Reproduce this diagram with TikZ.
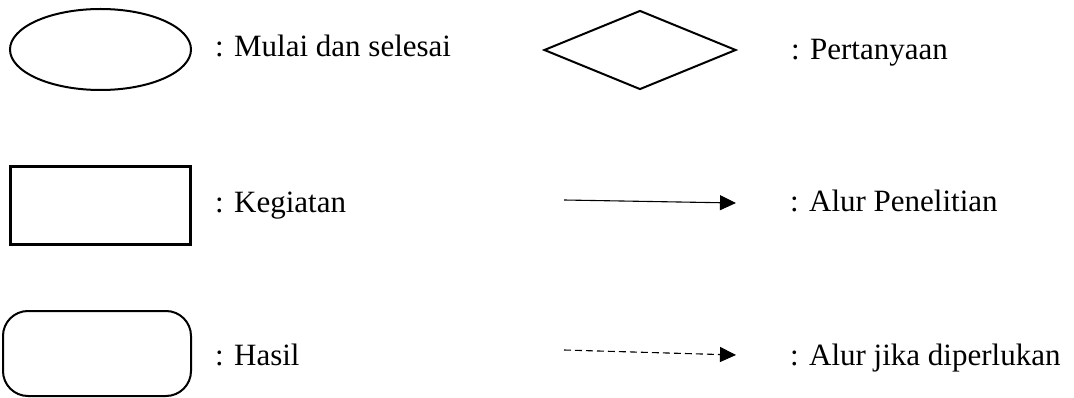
\documentclass[tikz,border=0pt]{standalone}
\usepackage{fontspec}
\setmainfont{Liberation Serif}
\usetikzlibrary{shapes.geometric,arrows.meta}
\begin{document}
\begin{tikzpicture}[x=1pt,y=-1pt,
  shp/.style={draw=black,line width=2pt,inner sep=0pt,fill=white},
  lbl/.style={anchor=base west,inner sep=0pt,font=\fontsize{31}{37}\selectfont},
  flow/.style={line width=1.1pt,-{Triangle[length=16pt,width=15pt]}},
  optflow/.style={flow,dash pattern=on 7pt off 4pt}]
\useasboundingbox (0,0) rectangle (1074,398);
% left column
\node[shp,ellipse,minimum width=181pt,minimum height=81pt] (start) at (100.5,49.5) {};
\node[lbl] (startlbl) at (215,57) {: Mulai dan selesai};
\node[shp,rectangle,line width=3pt,minimum width=180pt,minimum height=78pt] (act) at (100.5,205.5) {};
\node[lbl] (actlbl) at (215,213) {: Kegiatan};
\node[shp,rectangle,rounded corners=25pt,minimum width=188pt,minimum height=85pt] (res) at (97,353.5) {};
\node[lbl] (reslbl) at (215,365) {: Hasil};
% right column
\node[shp,diamond,minimum width=192pt,minimum height=79pt] (q) at (640,50) {};
\node[lbl] (qlbl) at (791,60) {: Pertanyaan};
\coordinate (f1s) at (564,200);
\coordinate (f1e) at (736,203);
\draw[flow] (f1s) -- (f1e);
\node[lbl] (f1lbl) at (790,212) {: Alur Penelitian};
\coordinate (f2s) at (564,350);
\coordinate (f2e) at (736,355);
\draw[optflow] (f2s) -- (f2e);
\node[lbl] (f2lbl) at (790,365) {: Alur jika diperlukan};
\end{tikzpicture}
\end{document}
